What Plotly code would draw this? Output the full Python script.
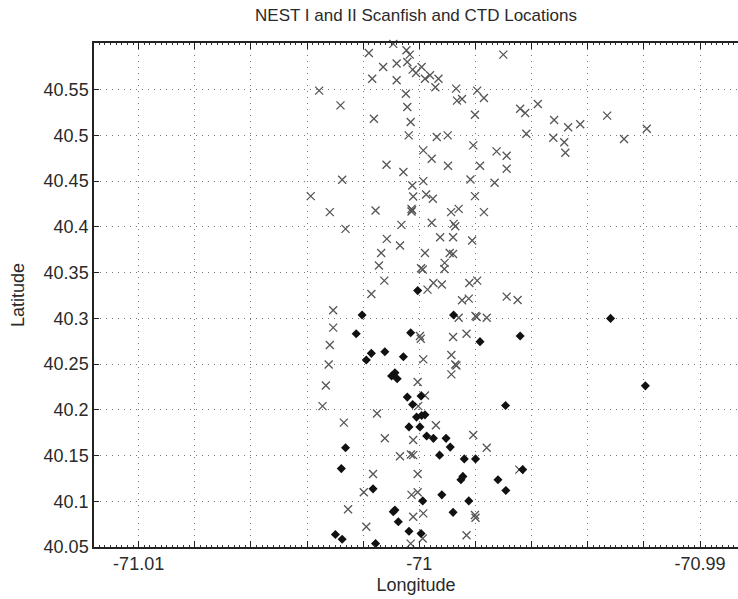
import plotly.graph_objects as go

# Scanfish locations (x markers)
scan_lon = [
    -71.00093, -71.00180, -71.00046, -71.00034, -71.00043, -71.00024, -70.99992, -71.00012,
    -70.99980, -70.99962, -70.99932, -70.99943, -71.00081, -71.00129, -71.00168, -71.00081,
    -70.99701, -71.00357, -71.00281, -71.00048, -71.00043, -71.00162, -71.00031, -71.00038,
    -70.99938, -70.99899, -70.99869, -70.99866, -70.99848, -70.99794, -70.99770, -70.99802,
    -70.99641, -70.99623, -70.99578, -70.99619, -70.99808, -70.99986, -70.99956, -71.00117,
    -70.99898, -70.99784, -70.99725, -70.99689, -70.99689,
    -70.99520, -70.99470, -70.99427, -70.99331, -70.99190, -70.99271, -70.99523, -70.99484, -70.99480,
    -71.00057, -71.00275, -71.00387, -71.00319, -71.00263, -71.00025, -70.99986, -71.00022,
    -70.99976, -70.99952, -70.99818, -70.99732, -70.99802, -71.00156, -71.00028, -71.00028,
    -71.00026, -70.99887, -70.99860, -70.99770, -71.00064, -70.99956, -70.99878, -70.99872,
    -71.00116, -71.00069, -70.99926, -70.99880, -70.99812, -71.00136, -70.99980, -70.99892,
    -70.99880, -71.00144, -70.99910, -70.99911, -70.99994, -70.99988, -71.00125, -70.99950,
    -70.99920, -70.99822, -70.99794, -70.99971, -71.00171,
    -70.99848, -70.99824, -70.99689, -70.99650, -71.00307, -71.00307, -71.00319, -71.00323,
    -71.00333, -71.00345, -70.99998, -70.99995, -70.99986, -70.99860, -70.99800, -70.99796,
    -70.99760, -70.99832, -70.99880, -70.99886, -70.99872, -70.99868, -70.99886, -71.00006,
    -70.99980, -71.00004, -71.00151,
    -71.00269, -70.99941, -71.00022, -71.00123, -70.99808, -70.99760, -71.00069, -71.00030,
    -71.00022, -71.00165, -71.00006, -70.99644, -71.00198, -71.00028, -71.00006, -71.00254,
    -71.00022, -70.99986, -70.99802, -70.99800, -71.00189, -70.99988, -71.00031, -70.99832,
]
scan_lat = [
    40.6000, 40.5900, 40.5931, 40.5883, 40.5803, 40.5719, 40.5748, 40.5682,
    40.5620, 40.5657, 40.5620, 40.5526, 40.5785, 40.5748, 40.5620, 40.5602,
    40.5883, 40.5489, 40.5328, 40.5456, 40.5310, 40.5182, 40.5146, 40.5000,
    40.4982, 40.5000, 40.5511, 40.5380, 40.5398, 40.5489, 40.5409, 40.5226,
    40.5292, 40.5245, 40.5343, 40.5018, 40.4891, 40.4836, 40.4745, 40.4679,
    40.4668, 40.4668, 40.4825, 40.4777, 40.4635,
    40.5168, 40.5089, 40.5121, 40.5216, 40.5073, 40.4961, 40.4975, 40.4925, 40.4811,
    40.4599, 40.4515, 40.4336, 40.4161, 40.3978, 40.4453, 40.4500, 40.4332,
    40.4354, 40.4307, 40.4518, 40.4482, 40.4336, 40.4179, 40.4197, 40.4168,
    40.4183, 40.4161, 40.4197, 40.4161, 40.4022, 40.4044, 40.4033, 40.4007,
    40.3869, 40.3796, 40.3887, 40.3887, 40.3850, 40.3715, 40.3715, 40.3715,
    40.3704, 40.3577, 40.3606, 40.3540, 40.3547, 40.3533, 40.3412, 40.3387,
    40.3369, 40.3387, 40.3412, 40.3314, 40.3266,
    40.3197, 40.3215, 40.3237, 40.3201, 40.3088, 40.2898, 40.2708, 40.2496,
    40.2266, 40.2040, 40.2807, 40.2777, 40.2551, 40.3007, 40.3026, 40.3015,
    40.3007, 40.2832, 40.2796, 40.2599, 40.2496, 40.2485, 40.2387, 40.2303,
    40.2157, 40.2040, 40.1960,
    40.1860, 40.1831, 40.1669, 40.1688, 40.1724, 40.1585, 40.1493, 40.1511,
    40.1504, 40.1298, 40.1298, 40.1346, 40.1099, 40.1070, 40.1099, 40.0912,
    40.0831, 40.0868, 40.0849, 40.0820, 40.0721, 40.0592, 40.0537, 40.0629,
]

# CTD locations (filled diamonds)
ctd_lon = [
    -71.00006, -71.00204, -71.00225, -71.00171, -71.00189, -71.00123, -71.00057, -71.00031,
    -70.99878, -70.99784, -70.99641, -71.00099, -71.00087, -71.00079, -71.00043, -71.00024,
    -70.99994, -70.99693, -71.00010, -70.99992, -70.99980, -70.99319, -70.99195,
    -71.00037, -70.99998, -70.99974, -70.99950, -70.99905, -70.99890, -71.00263, -70.99928,
    -70.99840, -70.99800, -71.00278, -70.99845, -70.99852, -70.99720, -70.99692, -70.99632,
    -71.00165, -70.99988, -70.99920, -70.99824, -71.00093, -71.00087, -71.00075, -70.99880,
    -71.00299, -71.00275, -71.00156, -71.00037, -70.99994,
]
ctd_lat = [
    40.3303, 40.3036, 40.2832, 40.2617, 40.2544, 40.2635, 40.2580, 40.2843,
    40.3036, 40.2745, 40.2807, 40.2369, 40.2405, 40.2339, 40.2139, 40.2058,
    40.2150, 40.2047, 40.1920, 40.1938, 40.1945, 40.2999, 40.2262,
    40.1813, 40.1813, 40.1713, 40.1688, 40.1688, 40.1592, 40.1585, 40.1504,
    40.1463, 40.1463, 40.1357, 40.1272, 40.1235, 40.1235, 40.1118, 40.1346,
    40.1136, 40.1004, 40.1070, 40.1004, 40.0886, 40.0904, 40.0776, 40.0879,
    40.0636, 40.0585, 40.0537, 40.0673, 40.0647,
]

x_tickvals = [-71.010, -71.008, -71.006, -71.004, -71.002, -71.000,
              -70.998, -70.996, -70.994, -70.992, -70.990]
x_ticktext = ["-71.01", "", "", "", "", "-71", "", "", "", "", "-70.99"]
y_tickvals = [40.05, 40.10, 40.15, 40.20, 40.25, 40.30, 40.35, 40.40, 40.45, 40.50, 40.55]
y_ticktext = ["40.05", "40.1", "40.15", "40.2", "40.25", "40.3", "40.35", "40.4", "40.45", "40.5", "40.55"]

x_range = [-71.01159, -70.98865]
y_range = [40.05, 40.601]

FONT = "Liberation Sans, Arial, sans-serif"
TXT = "#2a2a2a"
GRID_DASH = "1px,5px"

fig = go.Figure()
fig.add_trace(go.Scatter(
    x=scan_lon, y=scan_lat, mode="markers", name="Scanfish",
    marker=dict(symbol="x-thin", size=8, color="#555555",
                line=dict(width=1.3, color="#555555")),
    cliponaxis=False, showlegend=False,
))
fig.add_trace(go.Scatter(
    x=ctd_lon, y=ctd_lat, mode="markers", name="CTD",
    marker=dict(symbol="diamond", size=7, color="#111111", line=dict(width=0)),
    cliponaxis=False, showlegend=False,
))

fig.update_layout(
    width=738, height=599,
    margin=dict(l=94, r=0, t=43, b=52),
    paper_bgcolor="white", plot_bgcolor="white",
    font=dict(family=FONT, size=18, color=TXT),
    showlegend=False,
    title=dict(text="NEST I and II Scanfish and CTD Locations",
               x=(94 + 738) / 2 / 738, xanchor="center",
               y=1 - 15 / 599, yanchor="middle",
               font=dict(family=FONT, size=17, color=TXT)),
    xaxis=dict(
        range=x_range, tickmode="array", tickvals=x_tickvals, ticktext=x_ticktext,
        showgrid=True, gridcolor="#777777", griddash=GRID_DASH, gridwidth=1,
        zeroline=False, showline=True, linecolor="#222222", linewidth=1.5,
        mirror="ticks", ticks="inside", ticklen=6, tickcolor="#222222", tickwidth=1,
        minor=dict(dtick=0.0002, ticks="inside", ticklen=2.5, tickcolor="#333333",
                   tickwidth=1, showgrid=False),
        tickfont=dict(family=FONT, size=18, color=TXT),
        title=dict(text="Longitude", standoff=5, font=dict(family=FONT, size=18, color=TXT)),
    ),
    yaxis=dict(
        range=y_range, tickmode="array", tickvals=y_tickvals, ticktext=y_ticktext,
        showgrid=True, gridcolor="#777777", griddash=GRID_DASH, gridwidth=1,
        zeroline=False, showline=True, linecolor="#222222", linewidth=1.5,
        mirror=False, ticks="inside", ticklen=5, tickcolor="#222222", tickwidth=1,
        tickfont=dict(family=FONT, size=18, color=TXT),
        title=dict(text="Latitude", standoff=14, font=dict(family=FONT, size=18, color=TXT)),
    ),
)

fig.write_html(
    "out.html",
    config={"displayModeBar": False},
    post_script="document.body.style.margin='0';document.body.style.overflow='hidden';",
)
